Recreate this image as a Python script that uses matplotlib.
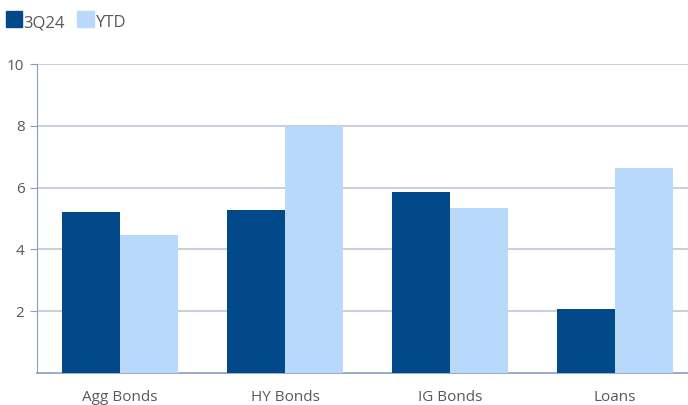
import matplotlib
matplotlib.use("Agg")
import matplotlib.pyplot as plt
import numpy as np
from matplotlib.patches import Rectangle

categories = ["Agg Bonds", "HY Bonds", "IG Bonds", "Loans"]
series_names = ["3Q24", "YTD"]
q3_values = [5.21, 5.27, 5.86, 2.07]
ytd_values = [4.47, 8.0, 5.34, 6.63]
y_ticks = [2, 4, 6, 8, 10]

dark = "#02498a"
light = "#b8d9fa"
grid_c = "#c3ccd9"
axis_c = "#8a9cbf"
text_c = "#595959"

plt.rcParams['font.family'] = ['Open Sans', 'DejaVu Sans']

W, H = 688, 405
fig = plt.figure(figsize=(W/100, H/100), dpi=100)
ax = fig.add_axes([37/W, 1-373/H, 651/W, (373-64)/H])

x = np.arange(len(categories))
cat_px = 165.0
w = 58/cat_px
ax.bar(x - w/2, q3_values, w, color=dark, zorder=3)
ax.bar(x + w/2, ytd_values, w, color=light, zorder=3)

ax.set_xlim(-(120-37)/cat_px, -(120-37)/cat_px + 651/cat_px)
ax.set_ylim(0, 10)
ax.set_yticks(y_ticks)
ax.set_xticks(x)
ax.set_xticklabels(categories)
ax.yaxis.grid(True, color=grid_c, linewidth=1.3, zorder=0)
for s in ["top", "right"]:
    ax.spines[s].set_visible(False)
ax.spines["left"].set_color(axis_c)
ax.spines["bottom"].set_color(axis_c)
ax.spines["bottom"].set_linewidth(1.2)
ax.tick_params(axis="y", colors=axis_c, length=5, labelcolor=text_c, labelsize=11, pad=4)
ax.tick_params(axis="x", length=0, labelcolor=text_c, labelsize=11, pad=12)

# legend drawn manually
fig.patches.append(Rectangle((6/W, 1-27/H), 16/W, 16/H, transform=fig.transFigure, color=dark))
fig.text(23/W, 1-27/H, series_names[0], fontsize=12, color=text_c, va="baseline", ha="left")
fig.patches.append(Rectangle((77/W, 1-27/H), 17/W, 16/H, transform=fig.transFigure, color=light))
fig.text(96/W, 1-27/H, series_names[1], fontsize=12, color=text_c, va="baseline", ha="left")

fig.savefig("out.png", dpi=100)
